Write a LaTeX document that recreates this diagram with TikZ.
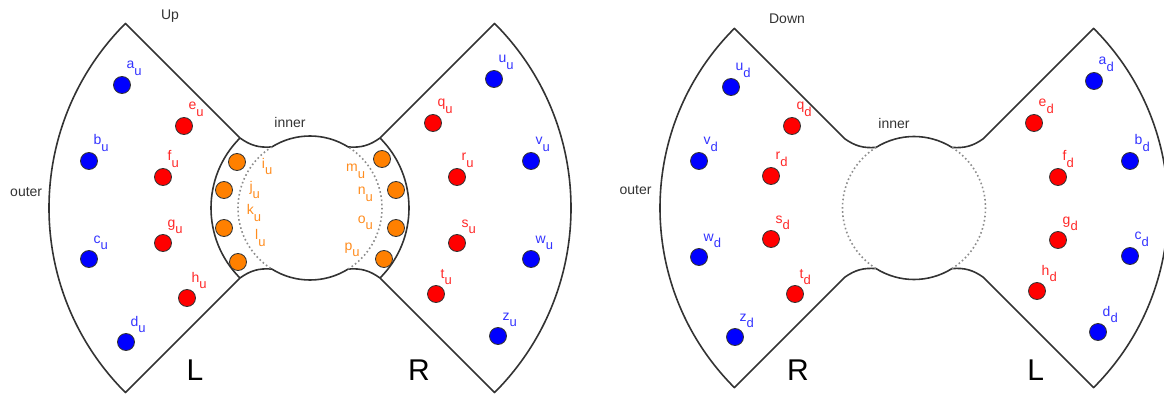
\documentclass[tikz,border=0pt]{standalone}
\usepackage{fontspec}
\setmainfont{Liberation Sans}
\usetikzlibrary{calc}
\definecolor{cb}{RGB}{0,0,255}
\definecolor{cblab}{RGB}{51,51,255}
\definecolor{cr}{RGB}{255,0,0}
\definecolor{crlab}{RGB}{255,40,40}
\definecolor{co}{RGB}{255,128,0}
\definecolor{colab}{RGB}{255,140,30}
\definecolor{ink}{RGB}{51,51,51}
\newcommand\mysub[1]{\raisebox{-6.5pt}{\fontsize{13}{15}\selectfont #1}}
\newcommand\vtx[5]{%
  \node[dot,fill=#5] (#1) at (#2) {};
  \node[lab,text=#5lab] (#1-l) at ([shift={(4.5,16)}]#1.center) {#3\mysub{#4}};}
\tikzset{
  dot/.style={circle,draw=ink,line width=0.8pt,minimum size=17pt,inner sep=0pt},
  lab/.style={anchor=base west,inner sep=0pt,font=\fontsize{14}{16}\selectfont},
  txt/.style={anchor=base,inner sep=0pt,font=\fontsize{14}{16}\selectfont,text=ink},
  big/.style={anchor=base,inner sep=0pt,font=\fontsize{30}{32}\selectfont,text=black},
  outline/.style={draw=ink,line width=1.6pt,line join=round},
  dots/.style={draw=black!45,line width=1.6pt,dash pattern=on 1.6pt off 2.6pt}
}
\begin{document}
\begin{tikzpicture}[x=1pt,y=1pt]
\useasboundingbox (0,0) rectangle (1164,394);
% ---------------- Up ----------------
\coordinate (C1) at (310,186);
\draw[outline] ([shift={(135:261)}]C1) arc[start angle=135,end angle=225,radius=261]
  -- ([shift={(225:99)}]C1) to[bend left=20] ([shift={(238:72)}]C1)
  arc[start angle=238,end angle=302,radius=72]
  to[bend left=20] ([shift={(315:99)}]C1) -- ([shift={(315:261)}]C1)
  arc[start angle=-45,end angle=45,radius=261]
  -- ([shift={(45:99)}]C1) to[bend left=20] ([shift={(58:72)}]C1)
  arc[start angle=58,end angle=122,radius=72]
  to[bend left=20] ([shift={(135:99)}]C1) -- cycle;
\draw[outline] ([shift={(135:99)}]C1) arc[start angle=135,end angle=225,radius=99];
\draw[outline] ([shift={(-45:99)}]C1) arc[start angle=-45,end angle=45,radius=99];
\draw[dots] ([shift={(122:72)}]C1) arc[start angle=122,end angle=238,radius=72];
\draw[dots] ([shift={(-58:72)}]C1) arc[start angle=-58,end angle=58,radius=72];
\node[txt] (up) at (170,374) {Up};
\node[txt] (inner1) at (290,266.7) {inner};
\node[txt] (outer1) at (26.2,197.3) {outer};
\node[big] (L1) at (195,13.5) {L};
\node[big] (R1) at (419,14) {R};
\vtx{au}{122,309}{a}{u}{cb}
\vtx{eu}{184,268}{e}{u}{cr}
\vtx{bu}{89,233}{b}{u}{cb}
\vtx{fu}{163,217}{f}{u}{cr}
\vtx{cu}{89,135}{c}{u}{cb}
\vtx{gu}{163,151}{g}{u}{cr}
\vtx{hu}{187,96}{h}{u}{cr}
\vtx{du}{126,52}{d}{u}{cb}
\vtx{uu}{494,315}{u}{u}{cb}
\vtx{qu}{433,271}{q}{u}{cr}
\vtx{vu}{531,233}{v}{u}{cb}
\vtx{ru}{457,217}{r}{u}{cr}
\vtx{su}{457,151}{s}{u}{cr}
\vtx{wu}{531,135}{w}{u}{cb}
\vtx{tu}{436,100}{t}{u}{cr}
\vtx{zu}{498,58}{z}{u}{cb}
\node[dot,fill=co] (iu) at (237,232) {};
\node[dot,fill=co] (ju) at (224,204) {};
\node[dot,fill=co] (ku) at (224,166) {};
\node[dot,fill=co] (lu) at (238,132) {};
\node[dot,fill=co] (mu) at (382,235) {};
\node[dot,fill=co] (nu) at (396,204) {};
\node[dot,fill=co] (ou) at (396,166) {};
\node[dot,fill=co] (pu) at (384,135) {};
\node[lab,text=colab] (iu-l) at (261.7,225.7) {i\mysub{u}};
\node[lab,text=colab] (ju-l) at (249.3,202.3) {j\mysub{u}};
\node[lab,text=colab] (ku-l) at (246.7,179) {k\mysub{u}};
\node[lab,text=colab] (lu-l) at (255,154) {l\mysub{u}};
\node[lab,text=colab] (mu-l) at (346,222.3) {m\mysub{u}};
\node[lab,text=colab] (nu-l) at (357.7,199) {n\mysub{u}};
\node[lab,text=colab] (ou-l) at (357.7,170.7) {o\mysub{u}};
\node[lab,text=colab] (pu-l) at (344.3,144) {p\mysub{u}};
% ---------------- Down ----------------
\coordinate (C2) at (914,186);
\draw[outline] ([shift={(135:254)}]C2) arc[start angle=135,end angle=225,radius=254]
  -- ([shift={(225:98)}]C2) to[bend left=20] ([shift={(238:71.5)}]C2)
  arc[start angle=238,end angle=302,radius=71.5]
  to[bend left=20] ([shift={(315:98)}]C2) -- ([shift={(315:254)}]C2)
  arc[start angle=-45,end angle=45,radius=254]
  -- ([shift={(45:98)}]C2) to[bend left=20] ([shift={(58:71.5)}]C2)
  arc[start angle=58,end angle=122,radius=71.5]
  to[bend left=20] ([shift={(135:98)}]C2) -- cycle;
\draw[dots] ([shift={(122:71.5)}]C2) arc[start angle=122,end angle=238,radius=71.5];
\draw[dots] ([shift={(-58:71.5)}]C2) arc[start angle=-58,end angle=58,radius=71.5];
\node[txt] (down) at (787,370.7) {Down};
\node[txt] (inner2) at (894,265.7) {inner};
\node[txt] (outer2) at (635.5,199) {outer};
\node[big] (R2) at (798,14) {R};
\node[big] (L2) at (1035.8,14) {L};
\vtx{ud}{731,307}{u}{d}{cb}
\vtx{qd}{792,268}{q}{d}{cr}
\vtx{vd}{699,233}{v}{d}{cb}
\vtx{rd}{771,218}{r}{d}{cr}
\vtx{wd}{699,137}{w}{d}{cb}
\vtx{sd}{771,155}{s}{d}{cr}
\vtx{td}{795,100}{t}{d}{cr}
\vtx{zd}{735,57}{z}{d}{cb}
\vtx{ad}{1094,313}{a}{d}{cb}
\vtx{ed}{1034,271}{e}{d}{cr}
\vtx{bd}{1130,233}{b}{d}{cb}
\vtx{fd}{1058,217}{f}{d}{cr}
\vtx{gd}{1058,154}{g}{d}{cr}
\vtx{cd}{1130,138}{c}{d}{cb}
\vtx{hd}{1037,103}{h}{d}{cr}
\vtx{dd}{1098,62}{d}{d}{cb}
\end{tikzpicture}
\end{document}
